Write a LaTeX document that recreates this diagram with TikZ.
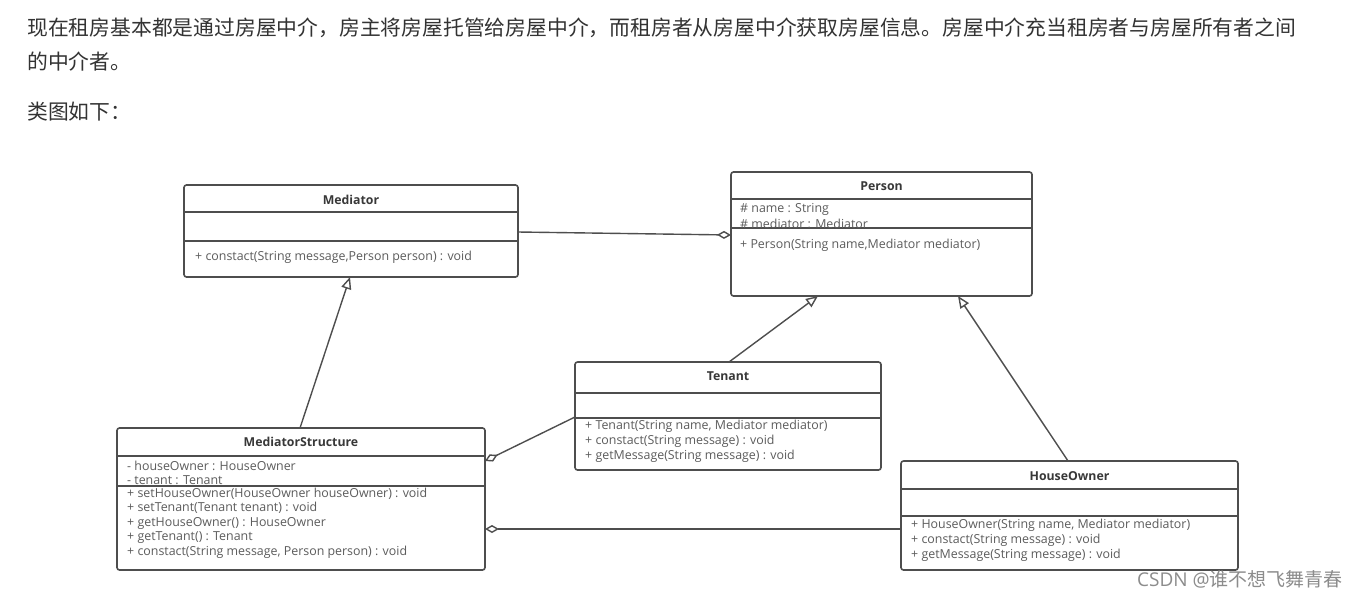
\documentclass[tikz,border=0pt]{standalone}
\usepackage{fontspec}
\setmainfont{Open Sans}
\newfontfamily\cjk{Noto Sans CJK SC}
\usetikzlibrary{arrows.meta}

\definecolor{linegray}{HTML}{4E4E4E}
\definecolor{textgray}{HTML}{5C5C5C}
\definecolor{titlegray}{HTML}{383838}
\definecolor{paragray}{HTML}{333333}

\tikzset{
  classbox/.style={draw=linegray, line width=1.6pt, rounded corners=2.5pt, anchor=north west, inner sep=0pt, outer sep=0pt},
  sepline/.style={draw=linegray, line width=1.4pt},
  classname/.style={font=\fontsize{12.3}{14}\selectfont\bfseries, text=titlegray, inner sep=0pt},
  member/.style={font=\fontsize{12.4}{14}\selectfont, text=textgray, anchor=west, inner sep=0pt, yshift=-1.5pt},
  para/.style={font=\fontsize{20.8}{25}\selectfont\cjk, text=paragray, anchor=west, inner sep=0pt},
  inherit/.style={draw=linegray, line width=1.4pt, -{Triangle[open,length=12pt,width=10pt]}},
  aggreg/.style={draw=linegray, line width=1.4pt, {Diamond[open,length=14pt,width=8pt]}-},
}

\begin{document}
\begin{tikzpicture}[x=1pt, y=-1pt]
\path[fill=white, use as bounding box] (0,0) rectangle (1362,598);

% intro text
\node[para] (intro1) at (27,28) {现在租房基本都是通过房屋中介，房主将房屋托管给房屋中介，而租房者从房屋中介获取房屋信息。房屋中介充当租房者与房屋所有者之间};
\node[para] (intro2) at (27,62) {的中介者。};
\node[para] (intro3) at (27,112) {类图如下：};

% Mediator
\node[classbox, minimum width=334pt, minimum height=92pt] (mediator) at (184,185) {};
\draw[sepline] (mediator.west |- 0,212) -- (mediator.east |- 0,212);
\draw[sepline] (mediator.west |- 0,241) -- (mediator.east |- 0,241);
\node[classname] (mediator-t) at (mediator.north |- 0,200) {Mediator};
\node[member] (mediator-m) at (195,256) {+ constact(String message,Person person) : void};

% Person
\node[classbox, minimum width=301pt, minimum height=124pt] (person) at (731,172) {};
\draw[sepline] (person.west |- 0,199) -- (person.east |- 0,199);
\draw[sepline] (person.west |- 0,228) -- (person.east |- 0,228);
\node[classname] (person-t) at (person.north |- 0,186) {Person};
\foreach \m [count=\i from 0] in {{\# name : String}, {\# mediator : Mediator}}
  \node[member] (person-a\i) at (740,{208+14.5*\i}) {\m};
\node[member] (person-m) at (740,244) {+ Person(String name,Mediator mediator)};

% Tenant
\node[classbox, minimum width=306pt, minimum height=108pt] (tenant) at (575,362) {};
\draw[sepline] (tenant.west |- 0,393) -- (tenant.east |- 0,393);
\draw[sepline] (tenant.west |- 0,418) -- (tenant.east |- 0,418);
\node[classname] (tenant-t) at (tenant.north |- 0,376) {Tenant};
\foreach \m [count=\i from 0] in {{+ Tenant(String name, Mediator mediator)},
    {+ constact(String message) : void}, {+ getMessage(String message) : void}}
  \node[member] (tenant-m\i) at (585,{425+15*\i}) {\m};

% MediatorStructure
\node[classbox, minimum width=368pt, minimum height=142pt] (medstruct) at (117,428) {};
\draw[sepline] (medstruct.west |- 0,456) -- (medstruct.east |- 0,456);
\draw[sepline] (medstruct.west |- 0,486) -- (medstruct.east |- 0,486);
\node[classname] (medstruct-t) at (medstruct.north |- 0,442) {MediatorStructure};
\foreach \m [count=\i from 0] in {{- houseOwner : HouseOwner}, {- tenant : Tenant}}
  \node[member] (medstruct-a\i) at (127,{464+15*\i}) {\m};
\foreach \m [count=\i from 0] in {{+ setHouseOwner(HouseOwner houseOwner) : void},
    {+ setTenant(Tenant tenant) : void}, {+ getHouseOwner() : HouseOwner},
    {+ getTenant() : Tenant}, {+ constact(String message, Person person) : void}}
  \node[member] (medstruct-m\i) at (127,{492+14.75*\i}) {\m};

% HouseOwner
\node[classbox, minimum width=337pt, minimum height=109pt] (houseowner) at (901,461) {};
\draw[sepline] (houseowner.west |- 0,489) -- (houseowner.east |- 0,489);
\draw[sepline] (houseowner.west |- 0,516) -- (houseowner.east |- 0,516);
\node[classname] (houseowner-t) at (houseowner.north |- 0,476) {HouseOwner};
\foreach \m [count=\i from 0] in {{+ HouseOwner(String name, Mediator mediator)},
    {+ constact(String message) : void}, {+ getMessage(String message) : void}}
  \node[member] (houseowner-m\i) at (911,{524+15*\i}) {\m};

% relations
\draw[aggreg] (person.west |- 0,235) -- (mediator.east |- 0,232);
\draw[inherit] (medstruct.north -| 300,0) -- (mediator.south -| 350,0);
\draw[inherit] (tenant.north -| 729,0) -- (person.south -| 818,0);
\draw[inherit] (houseowner.north -| 1068,0) -- (person.south -| 958,0);
\draw[aggreg] (medstruct.east |- 0,461) -- (tenant.west |- 0,417);
\draw[aggreg] (medstruct.east |- 0,529) -- (houseowner.west |- 0,529);

% watermark
\node[anchor=west, inner sep=0pt, font=\fontsize{19}{22}\selectfont, text=black!45] (mark) at (1137,579) {CSDN @{\cjk 谁不想飞舞青春}};
\end{tikzpicture}
\end{document}
